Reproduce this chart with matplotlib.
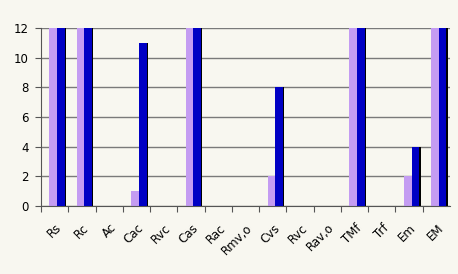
import numpy as np
import matplotlib.pyplot as plt

labels = ['Rs', 'Rc', 'Ac', 'Cac', 'Rvc', 'Cas', 'Rac', 'Rmv,o', 'Cvs',
          'Rvc', 'Rav,o', 'TMf', 'Trf', 'Em', 'EM']
light = [12, 12, 0, 1, 0, 12, 0, 0, 2, 0, 0, 12, 0, 2, 12]
dark = [12, 12, 0, 11, 0, 12, 0, 0, 8, 0, 0, 12, 0, 4, 12]

bg = '#f8f7f0'
x = np.arange(len(labels))
w = 0.28

fig = plt.figure(figsize=(4.58, 2.74), dpi=100, facecolor=bg)
ax = fig.add_axes([0.0895, 0.248, 0.893, 0.65])
ax.set_facecolor(bg)

ax.bar(x - 0.19, light, width=w, align='edge', color='#c49cf2', zorder=2)
# shadow behind the dark bars
ax.bar(x + 0.09 + 0.05, dark, width=w, align='edge', color='black', zorder=2)
ax.bar(x + 0.09, dark, width=w, align='edge', color='#0000c4', zorder=3)

ax.set_xlim(-0.5, len(labels) - 0.5)
ax.set_ylim(0, 12)
ax.set_yticks(range(0, 13, 2))
ax.yaxis.grid(True, color='#7a7a7a', linewidth=1, zorder=1)
ax.set_axisbelow(True)

ax.set_xticks(x - 0.5, minor=False)
ax.set_xticklabels([])
ax.set_xticks(x + 0.02, minor=True)
ax.set_xticklabels(labels, minor=True, rotation=45, ha='right',
                   rotation_mode='anchor', fontsize=8.5)
ax.tick_params(axis='x', which='minor', length=0, pad=11)
ax.tick_params(axis='x', which='major', length=4, color='#555555')
ax.tick_params(axis='y', length=4, color='#555555', labelsize=8.5, pad=5)

for s in ['top', 'right']:
    ax.spines[s].set_visible(False)
for s in ['left', 'bottom']:
    ax.spines[s].set_color('#555555')

fig.savefig('out.png', dpi=100, facecolor=bg)
